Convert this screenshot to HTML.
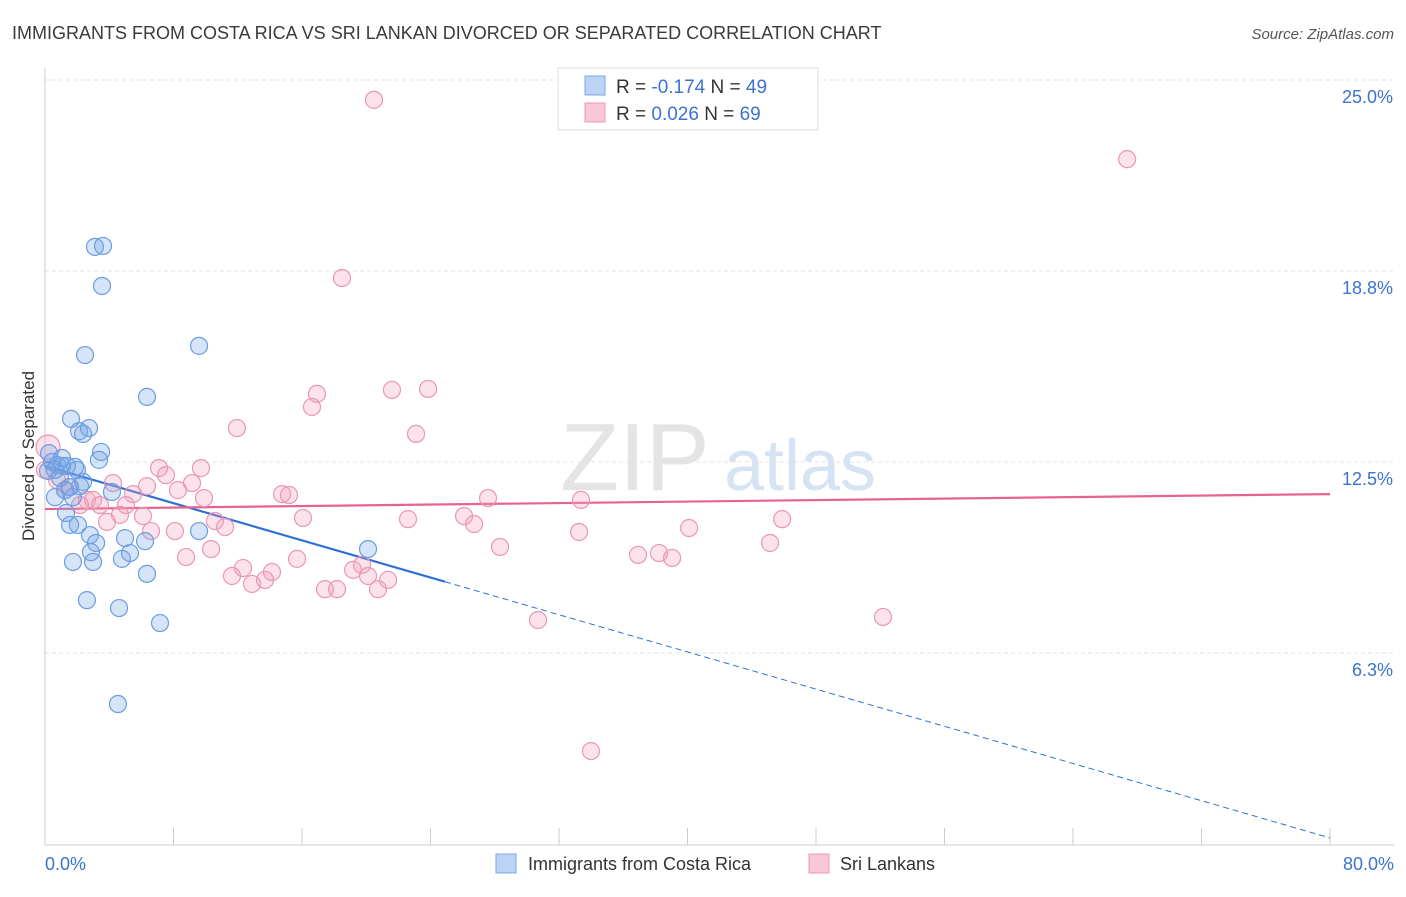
<!DOCTYPE html>
<html><head><meta charset="utf-8"><style>
body{margin:0;background:#fff;font-family:"Liberation Sans",sans-serif;}
svg text{font-family:"Liberation Sans",sans-serif;}
</style></head><body>
<svg id="chart" width="1406" height="892" xmlns="http://www.w3.org/2000/svg">
<text x="12" y="39" font-size="18" fill="#3a3a3a">IMMIGRANTS FROM COSTA RICA VS SRI LANKAN DIVORCED OR SEPARATED CORRELATION CHART</text>
<text x="1394" y="39" font-size="15" fill="#555" text-anchor="end" font-style="italic">Source: ZipAtlas.com</text>
<text transform="translate(34,456) rotate(-90)" font-size="17" fill="#333" text-anchor="middle">Divorced or Separated</text>
<g>
<text x="635" y="490" font-size="96" fill="#e4e4e4" text-anchor="middle" font-family="Liberation Serif,serif">ZIP</text>
<text x="800" y="490" font-size="72" fill="#d6e3f3" text-anchor="middle">atlas</text>
</g>
<g id="grid"></g><g id="axes"></g><g id="trends"></g><g id="pts"></g>
<g>
<rect x="558" y="68" width="260" height="62" fill="#fff" stroke="#ddd"/>
<rect x="585" y="76" width="20" height="19" fill="#bcd3f3" stroke="#7aa7e3"/>
<rect x="585" y="103" width="20" height="19" fill="#f9c8d8" stroke="#ec9ab6"/>
<text x="616" y="93" font-size="19" fill="#333">R = <tspan fill="#3b73d1">-0.174</tspan>   N = <tspan fill="#3b73d1">49</tspan></text>
<text x="616" y="120" font-size="19" fill="#333">R =  <tspan fill="#3b73d1">0.026</tspan>   N = <tspan fill="#3b73d1">69</tspan></text>
</g>
<g>
<rect x="496" y="854" width="20" height="19" fill="#bcd3f3" stroke="#7aa7e3"/>
<text x="528" y="870" font-size="18" fill="#333">Immigrants from Costa Rica</text>
<rect x="809" y="854" width="20" height="19" fill="#f9c8d8" stroke="#ec9ab6"/>
<text x="840" y="870" font-size="18" fill="#333">Sri Lankans</text>
</g>
</svg>
<script>
const yTicks=[6.25,12.5,18.75,25];
const yTickLabels=["6.3%","12.5%","18.8%","25.0%"];
const xTickLabels=["0.0%","80.0%"];
const blueX=[3.11,3.61,3.55,2.49,9.59,6.35,1.62,2.12,2.74,2.37,3.49,3.36,0.25,0.44,0.75,1.06,1.37,1.87,0.19,0.93,2.37,2.18,1.25,4.17,0.62,1.74,1.31,1.56,2.05,2.80,4.98,3.18,6.23,2.86,5.29,1.74,2.99,4.79,6.35,9.59,20.11,2.61,4.61,7.16,4.54,1.56,0.62,1.06,1.99];
const blueY=[19.54,19.57,18.26,16.00,16.30,14.63,13.91,13.51,13.61,13.42,12.83,12.57,12.79,12.50,12.40,12.37,12.37,12.34,12.21,11.98,11.85,11.71,11.58,11.52,11.35,11.35,10.83,10.44,10.44,10.11,10.01,9.85,9.91,9.55,9.52,9.23,9.23,9.33,8.84,10.24,9.65,7.98,7.72,7.23,4.58,11.68,12.24,12.63,12.24];
const pinkX=[20.48,67.37,18.49,16.93,16.62,21.60,23.85,11.95,23.10,0.19,7.10,9.71,7.53,4.23,9.15,1.49,6.35,8.28,14.76,15.19,9.90,2.61,2.99,5.48,27.58,33.37,1.25,3.42,5.04,2.18,4.67,6.10,16.06,22.60,26.09,26.71,45.89,3.86,10.58,11.21,6.60,8.09,40.10,33.25,28.33,10.34,8.78,15.69,36.92,38.23,39.04,45.14,12.33,11.64,14.13,19.18,19.74,20.11,21.36,13.70,12.89,17.43,18.18,20.73,30.69,52.17,33.99,0.75,0];
const pinkY=[24.35,22.41,18.52,14.73,14.30,14.86,14.89,13.61,13.42,12.99,12.30,12.30,12.07,11.81,11.81,11.68,11.71,11.58,11.45,11.42,11.32,11.26,11.26,11.45,11.32,11.26,11.58,11.09,11.09,11.09,10.77,10.73,10.67,10.63,10.73,10.47,10.63,10.54,10.57,10.37,10.24,10.24,10.34,10.21,9.72,9.65,9.39,9.33,9.46,9.52,9.36,9.85,9.03,8.77,8.90,8.97,9.13,8.77,8.64,8.64,8.51,8.34,8.34,8.34,7.33,7.43,3.04,11.91,12.24];
const blueTrend=[12.37,0.2];
const pinkTrend=[10.96,11.45];
const blueSolidEnd=24.9;
const NS="http://www.w3.org/2000/svg";
const X=v=>45+v/80*1285;
const Y=v=>844-v*30.56;
function mk(p,t,a){const e=document.createElementNS(NS,t);for(const k in a)e.setAttribute(k,a[k]);p.appendChild(e);return e;}
const grid=document.getElementById('grid'),axes=document.getElementById('axes');
yTicks.forEach((t,i)=>{
 const l=mk(grid,'line',{x1:45,x2:1394,y1:Y(t),y2:Y(t),stroke:'#e3e3e3','stroke-dasharray':'4,3'});
 
 
 const tx=mk(axes,'text',{x:1393,y:Y(t)+23,'font-size':18,fill:'#3b73d1','text-anchor':'end'});
 tx.textContent=yTickLabels[i];
 
 
});
mk(grid,'line',{x1:45,x2:1394,y1:Y(25)+0,y2:Y(25),stroke:'#e3e3e3','stroke-dasharray':'4,3'});
const ya=mk(axes,'line',{x1:45,x2:45,y1:68,y2:845,stroke:'#ccc'});


const xa=mk(axes,'line',{x1:45,x2:1394,y1:845,y2:845,stroke:'#ccc'});


for(let i=0;i<=10;i++){const t=mk(axes,'line',{x1:X(i*8),x2:X(i*8),y1:828,y2:845,stroke:'#ccc'});
 
 }
[[0,'start',45],[80,'end',1394]].forEach((d,i)=>{const t=mk(axes,'text',{x:d[2],y:870,'font-size':18,fill:'#3b73d1','text-anchor':d[1]});t.textContent=xTickLabels[i];
 
 });
const pts=document.getElementById('pts');
pinkX.forEach((v,i)=>{const c=mk(pts,'circle',{cx:X(v),cy:Y(pinkY[i]),r:(i===9?12:8.5),fill:'rgba(242,160,190,0.3)',stroke:'#ea97b4','stroke-width':1.2});
 
 });
blueX.forEach((v,i)=>{const c=mk(pts,'circle',{cx:X(v),cy:Y(blueY[i]),r:8.5,fill:'rgba(120,165,230,0.3)',stroke:'#6b9de0','stroke-width':1.2});
 
 });
const tr=document.getElementById('trends');
const by=v=>blueTrend[0]+(blueTrend[1]-blueTrend[0])*v/80;
const b1=mk(tr,'line',{x1:X(0),y1:Y(by(0)),x2:X(blueSolidEnd),y2:Y(by(blueSolidEnd)),stroke:'#2f6fd6','stroke-width':2.2});


const b2=mk(tr,'line',{x1:X(blueSolidEnd),y1:Y(by(blueSolidEnd)),x2:X(80),y2:Y(by(80)),stroke:'#2f6fd6','stroke-width':1,'stroke-dasharray':'6,4'});


const p1=mk(tr,'line',{x1:X(0),y1:Y(pinkTrend[0]),x2:X(80),y2:Y(pinkTrend[1]),stroke:'#e8628f','stroke-width':2.2});


</script>
</body></html>
